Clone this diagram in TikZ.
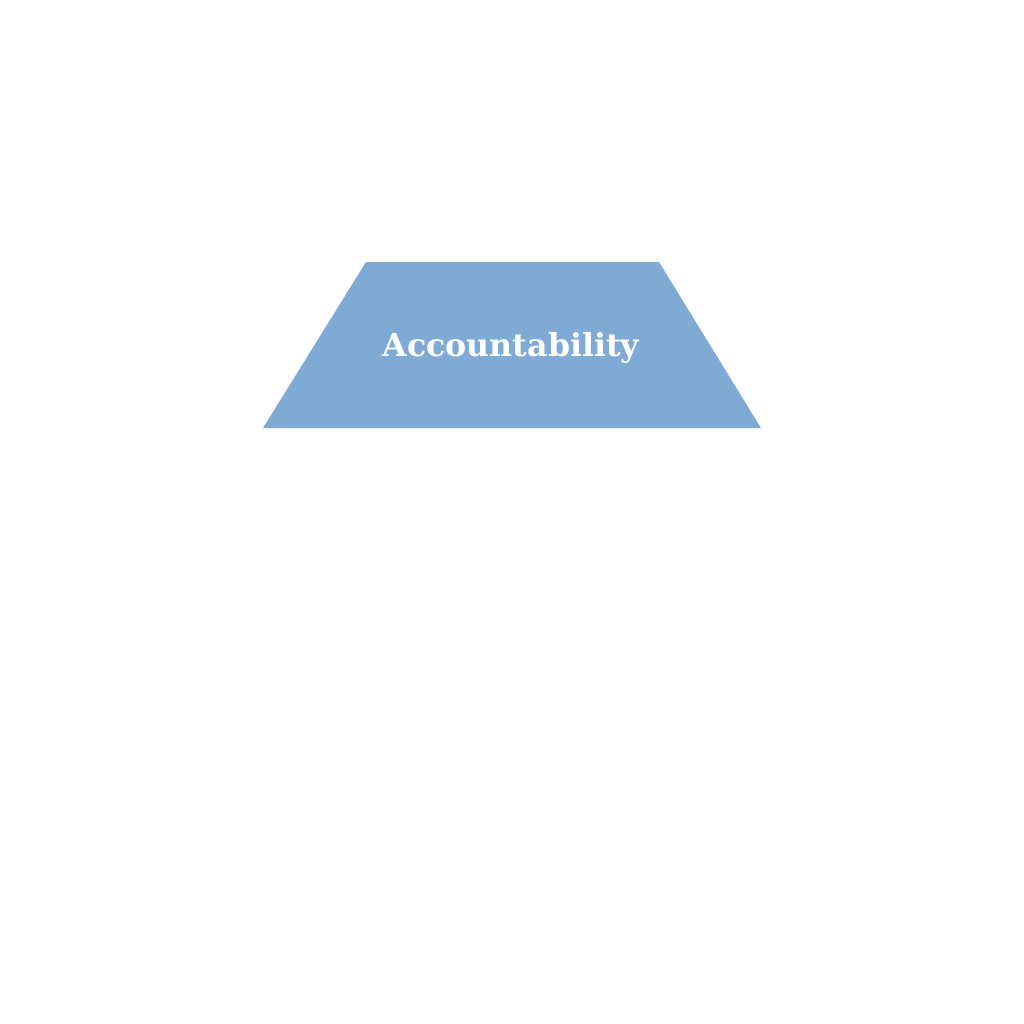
\documentclass[tikz,border=0pt]{standalone}
\usepackage{fontspec}
\setmainfont{DejaVu Serif}
\definecolor{trapblue}{RGB}{127,170,214}

\begin{document}
\begin{tikzpicture}[x=0.01cm,y=-0.01cm]
\useasboundingbox (0,0) rectangle (1024,1024);
\fill[trapblue] (366,262) -- (659,262) -- (761,428) -- (263,428) -- cycle;
\node[text=white,anchor=base,font=\fontsize{9pt}{11pt}\selectfont\bfseries](acc) at (511,356){Accountability};
\end{tikzpicture}
\end{document}
